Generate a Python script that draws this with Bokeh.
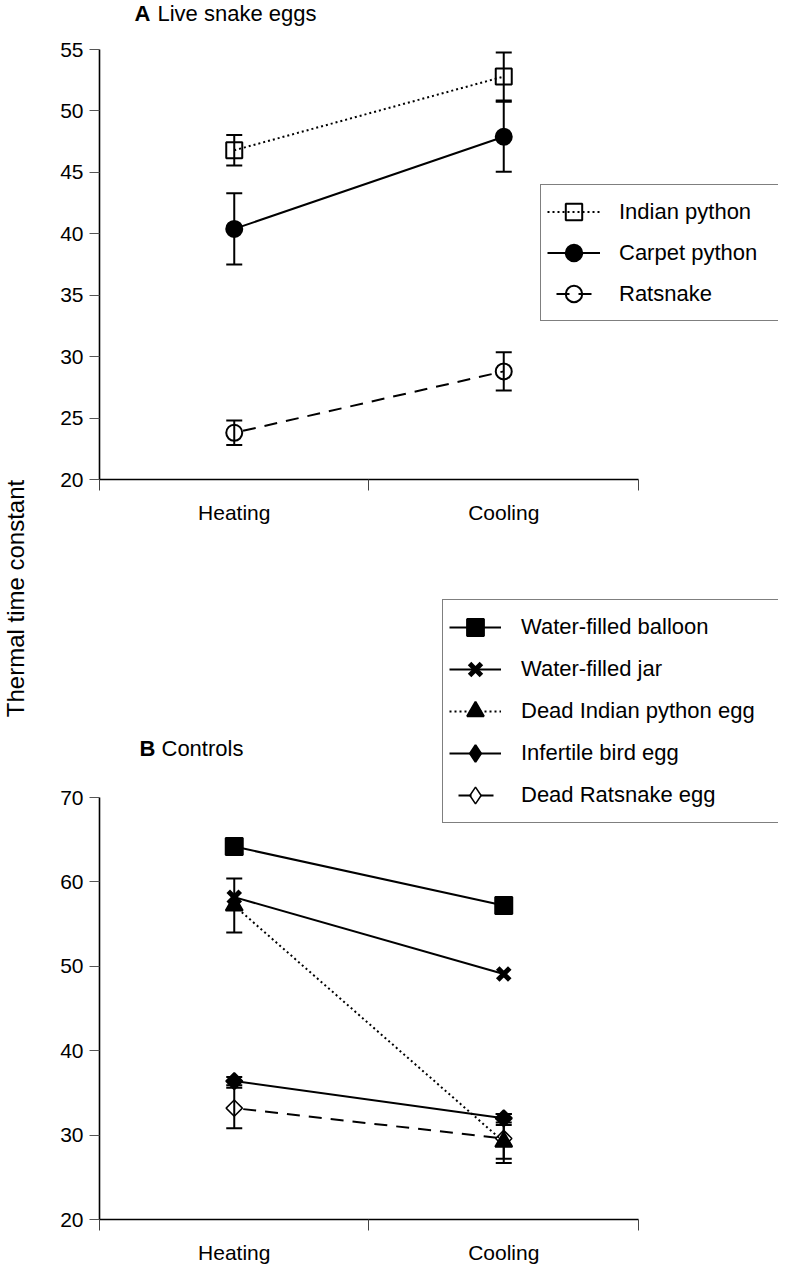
import math
from bokeh.plotting import figure
from bokeh.models import (ColumnDataSource, Whisker, TeeHead, Legend, LegendItem,
                          Label, FixedTicker, Range1d)
from bokeh.layouts import row, column
from bokeh.embed import file_html
from bokeh.resources import INLINE

# ---------------- data ----------------
phases = ["Heating", "Cooling"]
phase_x = [0.5, 1.5]

# Panel A: live snake eggs
indian_python = [46.8, 52.8]
indian_python_err = [1.25, 1.95]
carpet_python = [40.4, 47.9]
carpet_python_err = [2.9, 2.85]
ratsnake = [23.8, 28.8]
ratsnake_err = [1.0, 1.55]
ticks_a = [20, 25, 30, 35, 40, 45, 50, 55]

# Panel B: controls
balloon = [64.2, 57.2]
jar = [58.2, 49.1]
dead_indian = [57.2, 29.2]
dead_indian_err = [3.2, 2.0]
bird_egg = [36.4, 32.0]
bird_egg_err = [0.5, 0.5]
dead_ratsnake = [33.2, 29.6]
dead_ratsnake_err = [2.4, 2.9]
ticks_b = [20, 30, 40, 50, 60, 70]

FONT = "Liberation Sans"


def style_axes(p, yticks, ybounds):
    p.xaxis.ticker = FixedTicker(ticks=phase_x, minor_ticks=[0, 1, 2])
    p.xaxis.major_label_overrides = {phase_x[i]: phases[i] for i in range(2)}
    p.xaxis.bounds = (0, 2)
    p.xaxis.major_tick_out = 0
    p.xaxis.major_tick_in = 0
    p.xaxis.minor_tick_out = 11
    p.xaxis.minor_tick_in = 0
    p.xaxis.minor_tick_line_color = "#444444"
    p.xaxis.major_label_standoff = 10
    p.yaxis.ticker = FixedTicker(ticks=yticks, minor_ticks=[])
    p.yaxis.bounds = ybounds
    p.yaxis.major_tick_out = 10
    p.yaxis.major_tick_in = 0
    p.yaxis.major_tick_line_color = "#555555"
    p.yaxis.major_label_standoff = 6
    for ax in (p.xaxis, p.yaxis):
        ax.axis_line_color = "black"
        ax.axis_line_width = 1.6
        ax.major_label_text_font = FONT
        ax.major_label_text_font_size = "21px"
        ax.major_label_text_color = "black"
    p.xgrid.visible = False
    p.ygrid.visible = False


def add_series(p, y, err, marker, size, fill, dash, mlw=2, angle=0.0,
               dash_offset=0, legend_marker=None):
    ln = p.line(phase_x, y, line_color="black", line_width=2, line_dash=dash,
                line_dash_offset=dash_offset)
    if err is not None:
        src = ColumnDataSource(dict(x=phase_x,
                                    upper=[v + e for v, e in zip(y, err)],
                                    lower=[v - e for v, e in zip(y, err)]))
        w = Whisker(source=src, base="x", upper="upper", lower="lower",
                    line_width=2, line_color="black",
                    upper_head=TeeHead(size=16, line_width=2, line_color="black"),
                    lower_head=TeeHead(size=16, line_width=2, line_color="black"))
        p.add_layout(w)
    sc = p.scatter(phase_x, y, marker=marker, size=size, fill_color=fill,
                   line_color="black", line_width=mlw, angle=angle)
    if legend_marker is not None:
        # legend-only glyph (zero size on the plot), drawn at the same points
        proxy = p.scatter(phase_x, y, marker=legend_marker, size=0, fill_color=fill,
                          line_color="black", line_width=mlw)
        return [ln, proxy]
    return [ln, sc]


def make_label(p, x, y, text, bold=False, baseline="middle"):
    p.add_layout(Label(x=x, y=y, x_units="screen", y_units="screen", text=text,
                       text_font=FONT, text_font_style="bold" if bold else "normal",
                       text_font_size="22px", text_color="black",
                       text_baseline=baseline))


# ---------------- panel A ----------------
pA = figure(width=748, height=552, output_backend="svg", toolbar_location=None,
            x_range=Range1d(0, 2.5195), y_range=Range1d(20, 58.99),
            min_border_left=67, min_border_right=2, min_border_top=0,
            min_border_bottom=73, outline_line_color=None)
style_axes(pA, ticks_a, (20, 55))

rA1 = add_series(pA, indian_python, indian_python_err, "square", 16, None, "2 3")
rA2 = add_series(pA, carpet_python, carpet_python_err, "circle", 16, "black", "solid")
rA3 = add_series(pA, ratsnake, ratsnake_err, "circle", 16, None, "13 9", dash_offset=13)

legA = Legend(items=[LegendItem(label="Indian python", renderers=rA1),
                     LegendItem(label="Carpet python", renderers=rA2),
                     LegendItem(label="Ratsnake", renderers=rA3)],
              location=(441, 158), glyph_width=53, glyph_height=41, spacing=0,
              padding=6, label_standoff=19, label_width=156,
              label_text_font=FONT, label_text_font_size="22px",
              label_text_color="black",
              border_line_color="black", border_line_width=1.5,
              background_fill_color="white", background_fill_alpha=1.0)
pA.add_layout(legA, "center")

make_label(pA, 35, 479, "A", bold=True, baseline="top")
make_label(pA, 58, 479, "Live snake eggs", baseline="top")

# ---------------- panel B ----------------
pB = figure(width=748, height=714, output_backend="svg", toolbar_location=None,
            x_range=Range1d(0, 2.5195), y_range=Range1d(20, 97.86),
            min_border_left=67, min_border_right=2, min_border_top=10,
            min_border_bottom=36, outline_line_color=None)
style_axes(pB, ticks_b, (20, 70))

rB1 = add_series(pB, balloon, None, "square", 17, "black", "solid")
rB2 = add_series(pB, jar, None, "x", 17, "black", "solid", mlw=5)
rB3 = add_series(pB, dead_indian, dead_indian_err, "triangle", 17, "black", "2 3")
rB4 = add_series(pB, bird_egg, bird_egg_err, "square", 11.5, "black", "solid",
                 angle=math.pi / 4, legend_marker="diamond")
rB5 = add_series(pB, dead_ratsnake, dead_ratsnake_err, "square", 11.5, None, "13 9",
                 mlw=1.5, angle=math.pi / 4, dash_offset=13, legend_marker="diamond")

legB = Legend(items=[LegendItem(label="Water-filled balloon", renderers=rB1),
                     LegendItem(label="Water-filled jar", renderers=rB2),
                     LegendItem(label="Dead Indian python egg", renderers=rB3),
                     LegendItem(label="Infertile bird egg", renderers=rB4),
                     LegendItem(label="Dead Ratsnake egg", renderers=rB5)],
              location=(343, 396), glyph_width=52, glyph_height=42, spacing=0,
              padding=6, label_standoff=20, label_width=254,
              label_text_font=FONT, label_text_font_size="22px",
              label_text_color="black",
              border_line_color="black", border_line_width=1.5,
              background_fill_color="white", background_fill_alpha=1.0)
pB.add_layout(legB, "center")

make_label(pB, 40, 471, "B", bold=True)
make_label(pB, 62, 471, "Controls")

# ---------------- shared y label ----------------
pL = figure(width=32, height=1266, output_backend="svg", toolbar_location=None,
            x_axis_location=None, y_axis_location=None, min_border=0,
            outline_line_color=None, x_range=(0, 1), y_range=(0, 1))
pL.xgrid.visible = False
pL.ygrid.visible = False
pL.add_layout(Label(x=15, y=668, x_units="screen", y_units="screen",
                    text="Thermal time constant", angle=math.pi / 2,
                    text_align="center", text_baseline="middle",
                    text_font=FONT, text_font_size="24px", text_color="black"))

layout = row(pL, column(pA, pB))
open("out.html", "w").write(file_html(layout, INLINE))
